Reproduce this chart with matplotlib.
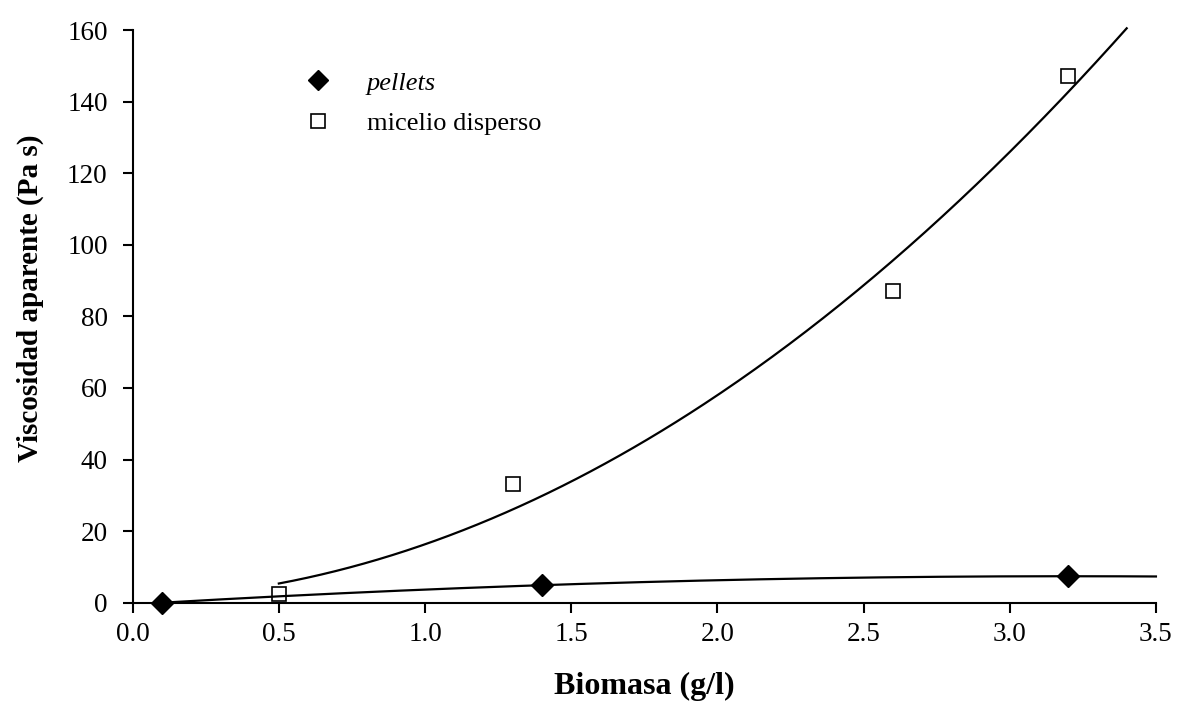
import numpy as np
import matplotlib.pyplot as plt

# Valores
biomasa_pellets = [0.1, 1.4, 3.2]
visc_pellets = [0.0, 4.9, 7.4]
biomasa_micelio = [0.5, 1.3, 2.6, 3.2]
visc_micelio = [2.3, 33.1, 87.1, 147.2]

# Rango de las lineas de tendencia (polinomio de grado 2)
rango_pellets = (0.1, 3.5)
rango_micelio = (0.5, 3.4)

x_ticks = [0.0, 0.5, 1.0, 1.5, 2.0, 2.5, 3.0, 3.5]
y_ticks = [0, 20, 40, 60, 80, 100, 120, 140, 160]

plt.rcParams["font.family"] = ["Liberation Serif", "DejaVu Serif"]

fig = plt.figure(figsize=(11.77, 7.08), dpi=100)
ax = fig.add_axes([0.1127, 0.1487, 0.8694, 0.8089])

# Lineas de tendencia
for xs, ys, (x0, x1) in [
    (biomasa_pellets, visc_pellets, rango_pellets),
    (biomasa_micelio, visc_micelio, rango_micelio),
]:
    coef = np.polyfit(xs, ys, 2)
    xx = np.linspace(x0, x1, 300)
    ax.plot(xx, np.polyval(coef, xx), color="black", lw=1.6, clip_on=False, zorder=2)

ax.plot(
    biomasa_pellets, visc_pellets, "D", color="black", ms=11,
    label="pellets", clip_on=False, zorder=4,
)
ax.plot(
    biomasa_micelio, visc_micelio, "s", markerfacecolor="none",
    markeredgecolor="black", mew=1.2, ms=10.5,
    label="micelio disperso", clip_on=False, zorder=4,
)

ax.set_xlim(0, 3.5)
ax.set_ylim(0, 160)
ax.set_xticks(x_ticks)
ax.set_xticklabels([f"{v:.1f}" for v in x_ticks])
ax.set_yticks(y_ticks)
ax.set_yticklabels([str(v) for v in y_ticks])

for side in ["top", "right"]:
    ax.spines[side].set_visible(False)
for side in ["left", "bottom"]:
    ax.spines[side].set_linewidth(1.5)

ax.tick_params(direction="out", length=7, width=1.5, labelsize=19.5)
ax.tick_params(axis="x", pad=7)
ax.tick_params(axis="y", pad=11)

ax.set_xlabel("Biomasa (g/l)", fontsize=23, fontweight="bold")
ax.xaxis.set_label_coords(0.5, -0.121)
ax.set_ylabel("Viscosidad aparente (Pa s)", fontsize=21, fontweight="bold")
ax.yaxis.set_label_coords(-0.0867, 0.532)

leg = ax.legend(
    loc="upper left", bbox_to_anchor=(0.168, 0.928), frameon=False,
    fontsize=19, handlelength=1.0, handletextpad=1.36, borderpad=0,
    borderaxespad=0, labelspacing=0.63, markerscale=0.9,
)
leg.get_texts()[0].set_fontstyle("italic")

fig.savefig("out.png", dpi=100)
